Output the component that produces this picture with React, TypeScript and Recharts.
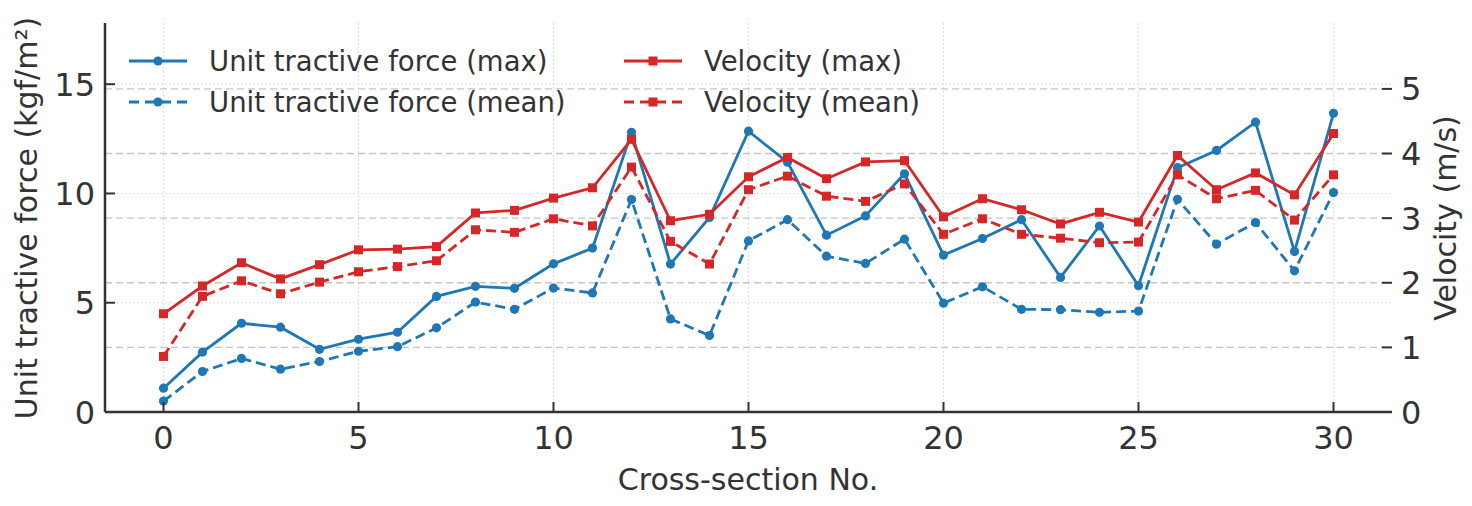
import { LineChart, Line, XAxis, YAxis, CartesianGrid, Legend } from 'recharts';

// cross-section numbers along the reach
const sections = [0, 1, 2, 3, 4, 5, 6, 7, 8, 9, 10, 11, 12, 13, 14, 15, 16, 17, 18, 19, 20, 21, 22, 23, 24, 25, 26, 27, 28, 29, 30];

// unit tractive force, kgf/m2 (left axis)
const forceMax = [1.09, 2.74, 4.06, 3.88, 2.87, 3.33, 3.65, 5.29, 5.75, 5.66, 6.78, 7.5, 12.8, 6.77, 8.9, 12.85, 11.43, 8.09, 8.97, 10.9, 7.18, 7.94, 8.8, 6.16, 8.51, 5.78, 11.18, 11.97, 13.26, 7.34, 13.67];
const forceMean = [0.5, 1.85, 2.45, 1.96, 2.31, 2.78, 2.99, 3.85, 5.03, 4.7, 5.67, 5.45, 9.72, 4.26, 3.5, 7.83, 8.8, 7.13, 6.8, 7.91, 4.98, 5.73, 4.7, 4.68, 4.56, 4.62, 9.73, 7.68, 8.67, 6.46, 10.04];

// velocity, m/s (right axis)
const velMax = [1.52, 1.95, 2.31, 2.06, 2.28, 2.51, 2.52, 2.56, 3.08, 3.12, 3.31, 3.47, 4.22, 2.96, 3.06, 3.64, 3.94, 3.61, 3.87, 3.89, 3.02, 3.3, 3.13, 2.91, 3.09, 2.94, 3.97, 3.44, 3.7, 3.36, 4.31];
const velMean = [0.86, 1.79, 2.03, 1.83, 2.01, 2.17, 2.25, 2.34, 2.82, 2.78, 2.99, 2.88, 3.79, 2.64, 2.29, 3.44, 3.65, 3.34, 3.26, 3.53, 2.75, 2.99, 2.75, 2.69, 2.62, 2.63, 3.67, 3.3, 3.43, 2.97, 3.67];

const xTicks = [0, 5, 10, 15, 20, 25, 30];
const forceTicks = [0, 5, 10, 15];
const velocityTicks = [0, 1, 2, 3, 4, 5];

const seriesLabels = ['Unit tractive force (max)', 'Unit tractive force (mean)', 'Velocity (max)', 'Velocity (mean)'];

const BLUE = '#1f77b4';
const RED = '#d62728';
const INK = '#333333';
const FONT = '"DejaVu Sans", sans-serif';
const DASH = '10 5';
const LW = 2.8;

const data = sections.map((s, i) => ({
  s,
  forceMax: forceMax[i],
  forceMean: forceMean[i],
  velMax: velMax[i],
  velMean: velMean[i],
}));

const circleDot = (color: string) => (p: any) => (
  <circle key={`c-${p.dataKey}-${p.index}`} cx={p.cx} cy={p.cy} r={4.6} fill={color} stroke="none" />
);

const squareDot = (color: string) => (p: any) => (
  <rect key={`s-${p.dataKey}-${p.index}`} x={p.cx - 4.5} y={p.cy - 4.5} width={9} height={9} fill={color} stroke="none" />
);

// ticks point inward, like the matplotlib original
const BottomTick = ({ x, y, payload }: any) => (
  <g>
    <line x1={x} x2={x} y1={y} y2={y - 10} stroke={INK} strokeWidth={2} />
    <text x={x} y={y + 37} textAnchor="middle" fill={INK} fontSize={32} fontFamily={FONT}>
      {payload.value}
    </text>
  </g>
);

const LeftTick = ({ x, y, payload }: any) => (
  <g>
    <line x1={x} x2={x + 10} y1={y} y2={y} stroke={INK} strokeWidth={2} />
    <text x={x - 10} y={y + 11.5} textAnchor="end" fill={INK} fontSize={32} fontFamily={FONT}>
      {payload.value}
    </text>
  </g>
);

const RightTick = ({ x, y, payload }: any) => (
  <g>
    <line x1={x - 10} x2={x} y1={y} y2={y} stroke={INK} strokeWidth={2} />
    <text x={x + 9} y={y + 11.5} textAnchor="start" fill={INK} fontSize={32} fontFamily={FONT}>
      {payload.value}
    </text>
  </g>
);

// axis titles take their own anchor props so the axis cannot override them
const AxisTitle = ({ ax, ay, text, rotate }: any) => (
  <text
    x={ax}
    y={ay}
    textAnchor="middle"
    fill={INK}
    fontSize={30}
    fontFamily={FONT}
    transform={rotate ? `rotate(-90 ${ax} ${ay})` : undefined}
  >
    {text}
  </text>
);

const LegendBox = () => {
  const items = [
    { color: BLUE, dashed: false, square: false, hx: 129, hy: 61 },
    { color: BLUE, dashed: true, square: false, hx: 129, hy: 102 },
    { color: RED, dashed: false, square: true, hx: 624, hy: 61 },
    { color: RED, dashed: true, square: true, hx: 624, hy: 102 },
  ];
  return (
    <svg width={960} height={130}>
      {items.map((it, i) => (
        <g key={i}>
          <line
            x1={it.hx}
            x2={it.hx + 58}
            y1={it.hy}
            y2={it.hy}
            stroke={it.color}
            strokeWidth={LW}
            strokeDasharray={it.dashed ? '10 6' : undefined}
          />
          {it.square ? (
            <rect x={it.hx + 29 - 4.5} y={it.hy - 4.5} width={9} height={9} fill={it.color} />
          ) : (
            <circle cx={it.hx + 29} cy={it.hy} r={4.6} fill={it.color} />
          )}
          <text x={it.hx + 80} y={it.hy + 10} fill={INK} fontSize={27.5} fontFamily={FONT}>
            {seriesLabels[i]}
          </text>
        </g>
      ))}
    </svg>
  );
};

export default function App() {
  return (
    <div style={{ position: 'absolute', left: 0, top: 0, width: 1472, height: 506, background: '#fff' }}>
      <LineChart width={1472} height={506} data={data} margin={{ top: 23, right: 0, bottom: 0, left: 0 }}>
        <CartesianGrid yAxisId="left" syncWithTicks stroke="#d4d4d4" strokeDasharray="1.5 2.5" strokeWidth={1} />
        <CartesianGrid yAxisId="right" syncWithTicks vertical={false} stroke="#c6c6c6" strokeDasharray="7 4" strokeWidth={1.4} />
        <XAxis
          dataKey="s"
          type="number"
          domain={[-1.5, 31.5]}
          ticks={xTicks}
          interval={0}
          allowDataOverflow
          height={94}
          tickSize={0}
          tickMargin={0}
          tickLine={false}
          tick={BottomTick}
          axisLine={{ stroke: INK, strokeWidth: 2.5 }}
          label={<AxisTitle ax={748} ay={490} text="Cross-section No." />}
        />
        <YAxis
          yAxisId="left"
          width={105}
          domain={[0, 17.8]}
          ticks={forceTicks}
          interval={0}
          allowDataOverflow
          tickSize={0}
          tickMargin={0}
          tickLine={false}
          tick={LeftTick}
          axisLine={{ stroke: INK, strokeWidth: 2.5 }}
          label={<AxisTitle ax={37} ay={218} text="Unit tractive force (kgf/m²)" rotate />}
        />
        <YAxis
          yAxisId="right"
          orientation="right"
          width={80}
          domain={[0, 6.02]}
          ticks={velocityTicks}
          interval={0}
          allowDataOverflow
          tickSize={0}
          tickMargin={0}
          tickLine={false}
          tick={RightTick}
          axisLine={false}
          label={<AxisTitle ax={1456} ay={218} text="Velocity (m/s)" rotate />}
        />
        <Line yAxisId="left" type="linear" dataKey="forceMax" stroke={BLUE} strokeWidth={LW} dot={circleDot(BLUE)} activeDot={false} isAnimationActive={false} />
        <Line yAxisId="left" type="linear" dataKey="forceMean" stroke={BLUE} strokeWidth={LW} strokeDasharray={DASH} dot={circleDot(BLUE)} activeDot={false} isAnimationActive={false} />
        <Line yAxisId="right" type="linear" dataKey="velMax" stroke={RED} strokeWidth={LW} dot={squareDot(RED)} activeDot={false} isAnimationActive={false} />
        <Line yAxisId="right" type="linear" dataKey="velMean" stroke={RED} strokeWidth={LW} strokeDasharray={DASH} dot={squareDot(RED)} activeDot={false} isAnimationActive={false} />
        <Legend
          layout="vertical"
          align="center"
          verticalAlign="middle"
          content={<LegendBox />}
          wrapperStyle={{ left: 0, top: 0, width: 960, height: 130, pointerEvents: 'none' }}
        />
      </LineChart>
    </div>
  );
}
